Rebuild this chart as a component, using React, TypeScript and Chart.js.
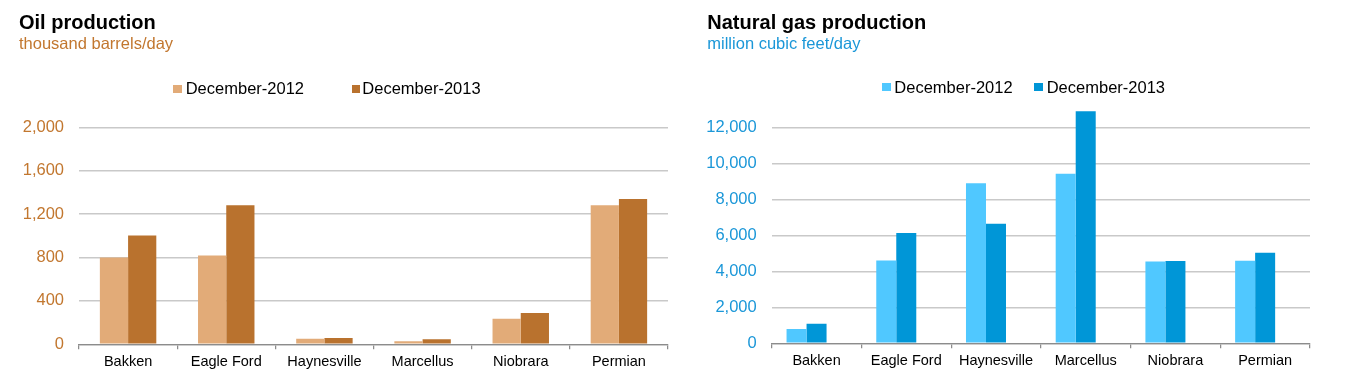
import React, { useEffect, useRef } from 'react';
import { Chart, registerables } from 'chart.js';

Chart.register(...registerables);

// ---------- data ----------
const categories = ['Bakken', 'Eagle Ford', 'Haynesville', 'Marcellus', 'Niobrara', 'Permian'];
const seriesLabels = ['December-2012', 'December-2013'];

const oil2012 = [800, 819, 52, 27, 236, 1282];
const oil2013 = [1003, 1282, 58, 46, 288, 1340];

const gas2012 = [800, 4600, 8890, 9423, 4540, 4590];
const gas2013 = [1080, 6129, 6644, 12890, 4570, 5030];
// Excel layout reserves an empty third slot per category in the gas chart
const gasSpacer = [null, null, null, null, null, null];

const oilTicks = [0, 400, 800, 1200, 1600, 2000];
const gasTicks = [0, 2000, 4000, 6000, 8000, 10000, 12000];
const oilAxisMax = 2000;
const gasAxisMax = 13000;

// ---------- styles ----------
const FONT = '"Liberation Sans", Arial, Helvetica, sans-serif';
const OIL_LIGHT = '#E2AB78';
const OIL_DARK = '#B9722E';
const OIL_TEXT = '#C2772F';
const GAS_LIGHT = '#50C8FF';
const GAS_DARK = '#0096D7';
const GAS_TEXT = '#1B97D8';

type ChartProps = {
  left: number;
  width: number;
  series: (number | null)[][];
  colors: string[];
  max: number;
  ticks: number[];
  tickColor: string;
  yAxisWidth: number;
  padRight: number;
  padTop: number;
  padBottom: number;
  catPct: number;
};

function BarChart(p: ChartProps) {
  const ref = useRef<HTMLCanvasElement | null>(null);
  useEffect(() => {
    if (!ref.current) return;
    const chart = new Chart(ref.current, {
      type: 'bar',
      data: {
        labels: categories,
        datasets: p.series.map((d, i) => ({
          label: seriesLabels[i] ?? '',
          data: d,
          backgroundColor: p.colors[i] ?? 'rgba(0,0,0,0)',
          borderWidth: 0,
          categoryPercentage: p.catPct,
          barPercentage: 1,
        })),
      },
      options: {
        responsive: false,
        animation: false,
        devicePixelRatio: 1,
        layout: { padding: { left: 0, right: p.padRight, top: p.padTop, bottom: p.padBottom } },
        plugins: {
          legend: { display: false },
          tooltip: { enabled: false },
          title: { display: false },
        },
        scales: {
          x: {
            offset: true,
            grid: {
              offset: true,
              drawOnChartArea: false,
              drawTicks: true,
              tickLength: 5,
              color: '#8c8c8c',
              lineWidth: 1.25,
            },
            border: { display: true, color: '#8c8c8c', width: 1.25 },
            ticks: {
              color: '#000000',
              font: { family: FONT, size: 14.5 },
              padding: 4,
              maxRotation: 0,
              autoSkip: false,
            },
            afterFit: (s: any) => {
              s.height = 30;
            },
          },
          y: {
            min: 0,
            max: p.max,
            grid: { color: '#c9c9c9', lineWidth: 1.5, drawTicks: false },
            border: { display: false },
            afterBuildTicks: (s: any) => {
              s.ticks = p.ticks.map((v) => ({ value: v }));
            },
            ticks: {
              color: p.tickColor,
              font: { family: FONT, size: 16.5 },
              padding: 15,
              callback: (v: any) => Number(v).toLocaleString('en-US'),
            },
            afterFit: (s: any) => {
              s.width = p.yAxisWidth;
            },
          },
        },
      },
    } as any);
    return () => chart.destroy();
  }, []);
  return (
    <canvas
      ref={ref}
      width={p.width}
      height={383}
      style={{ position: 'absolute', left: p.left, top: 0, width: p.width, height: 383, display: 'block' }}
    />
  );
}

function Text(props: { x: number; y: number; size: number; color: string; bold?: boolean; children: React.ReactNode }) {
  return (
    <div
      style={{
        position: 'absolute',
        left: props.x,
        top: props.y,
        fontFamily: FONT,
        fontSize: props.size,
        lineHeight: `${props.size}px`,
        fontWeight: props.bold ? 700 : 400,
        color: props.color,
        whiteSpace: 'nowrap',
      }}
    >
      {props.children}
    </div>
  );
}

function Box(props: { x: number; y: number; color: string }) {
  return (
    <div
      style={{ position: 'absolute', left: props.x, top: props.y, width: 8.5, height: 8.5, background: props.color }}
    />
  );
}

export default function App() {
  return (
    <div
      style={{
        position: 'absolute',
        left: 0,
        top: 0,
        width: 1346,
        height: 383,
        background: '#ffffff',
        overflow: 'hidden',
      }}
    >
      <BarChart
        left={0}
        width={680}
        series={[oil2012, oil2013]}
        colors={[OIL_LIGHT, OIL_DARK]}
        max={oilAxisMax}
        ticks={oilTicks}
        tickColor={OIL_TEXT}
        yAxisWidth={79}
        padRight={12}
        padTop={127.3}
        padBottom={8.7}
        catPct={0.575}
      />
      <BarChart
        left={680}
        width={666}
        series={[gas2012, gas2013, gasSpacer]}
        colors={[GAS_LIGHT, GAS_DARK, 'rgba(0,0,0,0)']}
        max={gasAxisMax}
        ticks={gasTicks}
        tickColor={GAS_TEXT}
        yAxisWidth={91.7}
        padRight={36}
        padTop={109.3}
        padBottom={9.7}
        catPct={0.669}
      />

      <Text x={19} y={12} size={20} color="#000" bold>Oil production</Text>
      <Text x={19} y={34.7} size={16.5} color={OIL_TEXT}>thousand barrels/day</Text>
      <Box x={173.3} y={84.7} color={OIL_LIGHT} />
      <Text x={185.7} y={80.3} size={16.5} color="#000">{seriesLabels[0]}</Text>
      <Box x={351.7} y={84.7} color={OIL_DARK} />
      <Text x={362.3} y={80.3} size={16.5} color="#000">{seriesLabels[1]}</Text>

      <Text x={707.3} y={11.8} size={20} color="#000" bold>Natural gas production</Text>
      <Text x={707.3} y={34.7} size={16.5} color={GAS_TEXT}>million cubic feet/day</Text>
      <Box x={882.3} y={82.7} color={GAS_LIGHT} />
      <Text x={894.3} y={79.3} size={16.5} color="#000">{seriesLabels[0]}</Text>
      <Box x={1034.3} y={82.7} color={GAS_DARK} />
      <Text x={1046.7} y={79.3} size={16.5} color="#000">{seriesLabels[1]}</Text>
    </div>
  );
}
